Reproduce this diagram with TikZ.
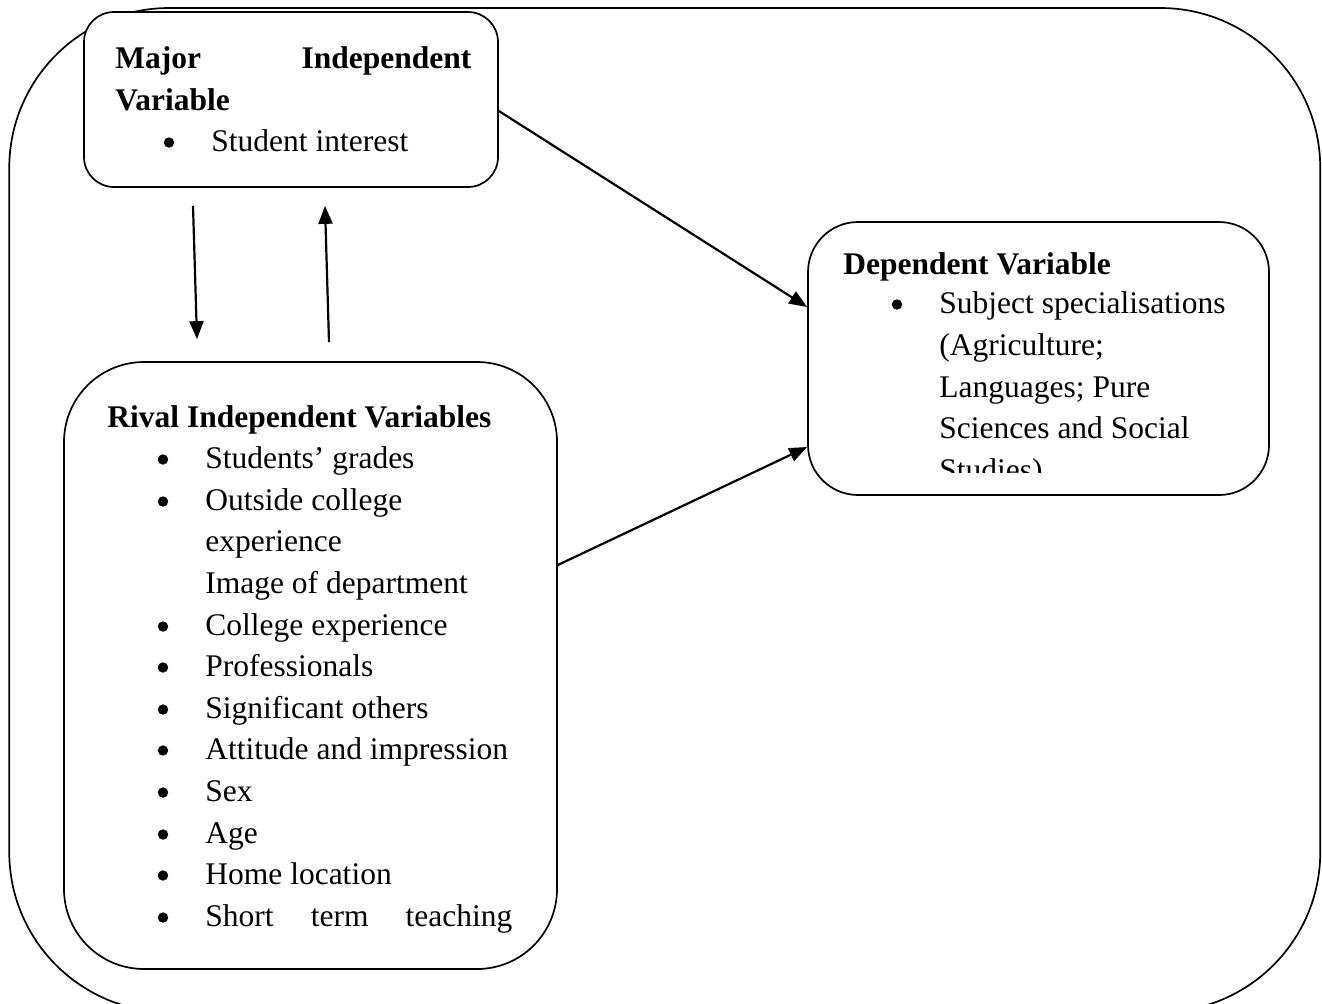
\documentclass[tikz,border=0pt]{standalone}
\usepackage{fontspec}
\setmainfont{Liberation Serif}
\usetikzlibrary{arrows.meta,calc}
\tikzset{
  box/.style={draw, line width=0.85pt, fill=white, inner sep=0pt, rectangle},
  txt/.style={anchor=base west, inner sep=0pt},
  bul/.style={circle, fill=black, inner sep=0pt, minimum size=5.2pt},
  arr/.style={-{Triangle[length=9pt,width=7pt]}, line width=1.1pt},
}
\begin{document}
\begin{tikzpicture}[x=0.5pt,y=-0.5pt, every node/.append style={font=\fontsize{15.75pt}{20pt}\selectfont}]
\useasboundingbox (0,0) rectangle (1322,1003);
% outer frame
\node[box, rounded corners=80pt, minimum width=655.5pt, minimum height=502pt, fill=none] (frame) at (664.75,510) {};
% boxes
\node[box, rounded corners=15pt, minimum width=207pt, minimum height=87.5pt] (maj) at (291,99.5) {};
\node[box, rounded corners=40pt, minimum width=246.5pt, minimum height=303.5pt] (rival) at (310.5,665.5) {};
\node[box, rounded corners=25pt, minimum width=230.5pt, minimum height=136.5pt] (dep) at (1038.5,358.5) {};
% major text
\node[txt] (majt) at (115,68) {\bfseries\hbox to 178pt{Major\hfill Independent}};
\node[txt] (majv) at (115,110) {\bfseries Variable};
\node[bul] (majb) at (169,142.5) {};
\node[txt] (maji) at (211,151) {Student interest};
% rival text
\node[txt] (rivt) at (107,427) {\bfseries Rival Independent Variables};
\node[bul] (rb1) at (163,459.5) {};
\node[txt] (ri1) at (205,468) {Students’ grades};
\node[bul] (rb2) at (163,501.5) {};
\node[txt] (ri2) at (205,510) {Outside college};
\node[txt] (ri3) at (205,551) {experience};
\node[txt] (ri4) at (205,593) {Image of department};
\node[bul] (rb5) at (163,626.5) {};
\node[txt] (ri5) at (205,635) {College experience};
\node[bul] (rb6) at (163,667.5) {};
\node[txt] (ri6) at (205,676) {Professionals};
\node[bul] (rb7) at (163,709.5) {};
\node[txt] (ri7) at (205,718) {Significant others};
\node[bul] (rb8) at (163,750.5) {};
\node[txt] (ri8) at (205,759) {Attitude and impression};
\node[bul] (rb9) at (163,792.5) {};
\node[txt] (ri9) at (205,801) {Sex};
\node[bul] (rb10) at (163,834.5) {};
\node[txt] (ri10) at (205,843) {Age};
\node[bul] (rb11) at (163,875.5) {};
\node[txt] (ri11) at (205,884) {Home location};
\node[bul] (rb12) at (163,917.5) {};
\node[txt] (ri12) at (205,926) {\hbox to 153.5pt{Short\hfill term\hfill teaching}};
% dependent text
\node[txt] (dept) at (843,274) {\bfseries Dependent Variable};
\node[bul] (db1) at (897,304.5) {};
\node[txt] (di1) at (939,313) {Subject specialisations};
\node[txt] (di2) at (939,355) {(Agriculture;};
\node[txt] (di3) at (939,397) {Languages; Pure};
\node[txt] (di4) at (939,438) {Sciences and Social};
\begin{scope}
\clip (808,222) rectangle (1269,472);
\node[txt] (di5) at (939,480) {Studies)};
\end{scope}
% connectors
\draw[arr] ($(maj.east)+(0,11.5)$) -- ($(dep.west)+(0,-51.5)$);
\draw[arr] ($(rival.east)+(0,-100.5)$) -- ($(dep.west)+(0,88.5)$);
\draw[arr] ($(maj.south)+(-98,18)$) -- ($(rival.north)+(-113.5,-22)$);
\draw[arr] ($(rival.north)+(18.5,-19)$) -- ($(maj.south)+(34,18)$);
\end{tikzpicture}
\end{document}
